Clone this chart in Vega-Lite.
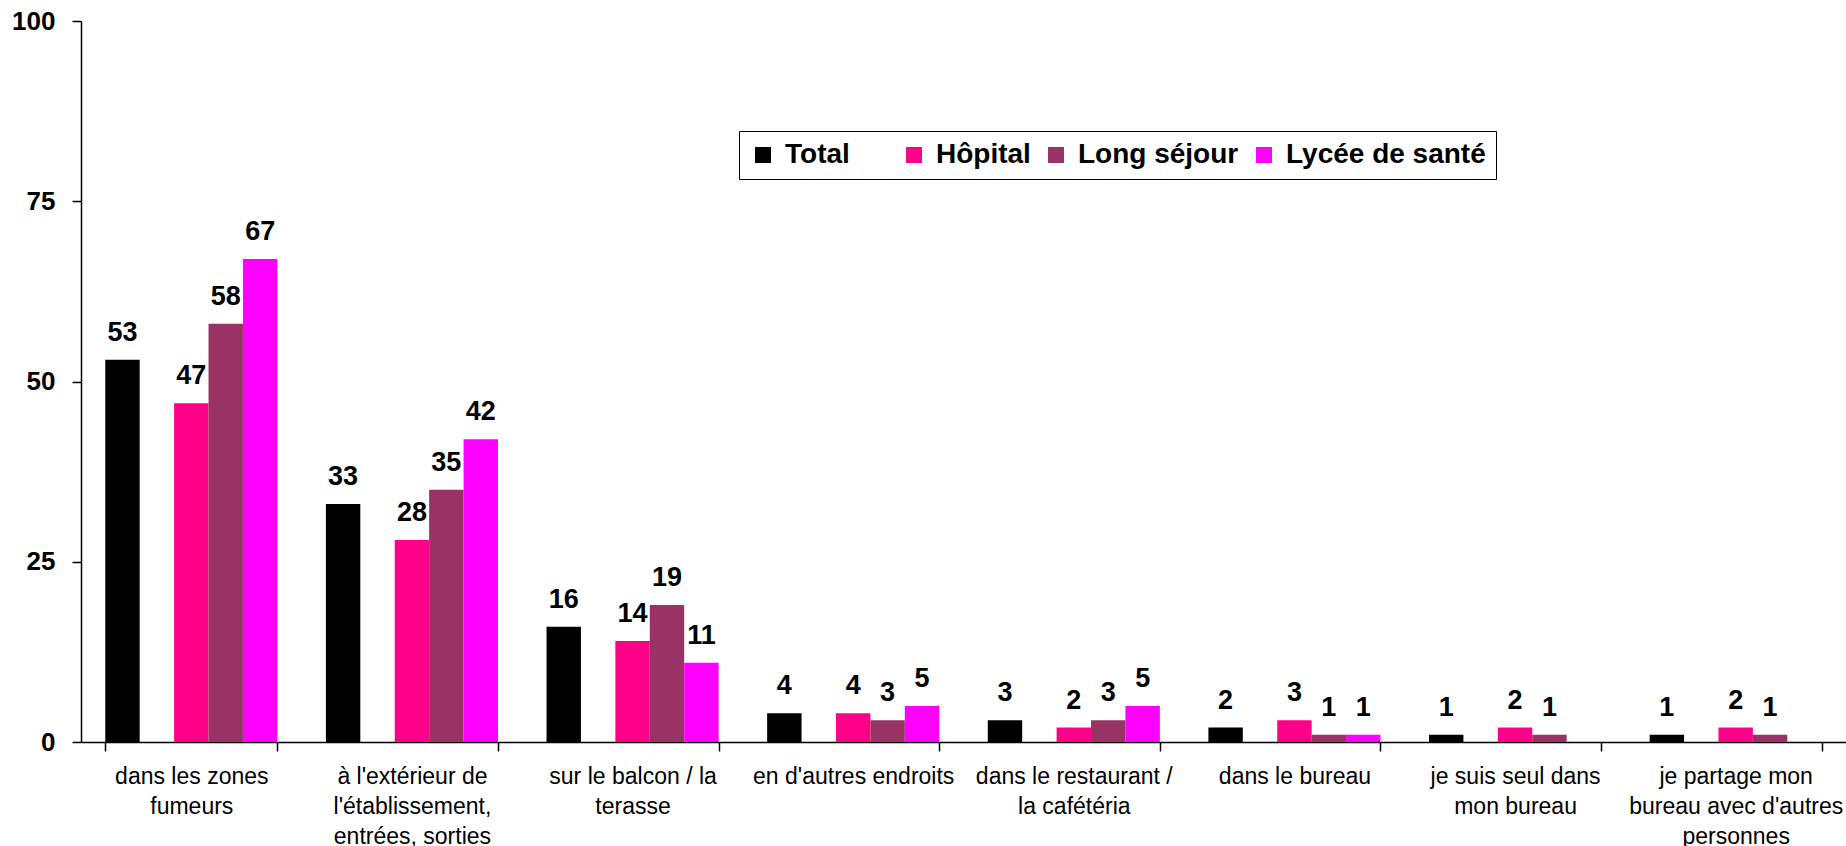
{
  "$schema": "https://vega.github.io/schema/vega-lite/v6.json",
  "width": 1765,
  "height": 721,
  "autosize": {"type": "none"},
  "padding": {"left": 81, "top": 21, "right": 0, "bottom": 104},
  "background": "white",
  "config": {
    "font": "Liberation Sans",
    "view": {"stroke": null},
    "axis": {"domainColor": "black", "tickColor": "black", "domainWidth": 1.5, "tickWidth": 1.5, "labelColor": "black", "grid": false}
  },
  "data": {
    "values": [
      {"cat": "dans les zones fumeurs", "s": "Total", "v": 53},
      {"cat": "dans les zones fumeurs", "s": "Hôpital", "v": 47},
      {"cat": "dans les zones fumeurs", "s": "Long séjour", "v": 58},
      {"cat": "dans les zones fumeurs", "s": "Lycée de santé", "v": 67},
      {"cat": "à l'extérieur de l'établissement, entrées, sorties", "s": "Total", "v": 33},
      {"cat": "à l'extérieur de l'établissement, entrées, sorties", "s": "Hôpital", "v": 28},
      {"cat": "à l'extérieur de l'établissement, entrées, sorties", "s": "Long séjour", "v": 35},
      {"cat": "à l'extérieur de l'établissement, entrées, sorties", "s": "Lycée de santé", "v": 42},
      {"cat": "sur le balcon / la terasse", "s": "Total", "v": 16},
      {"cat": "sur le balcon / la terasse", "s": "Hôpital", "v": 14},
      {"cat": "sur le balcon / la terasse", "s": "Long séjour", "v": 19},
      {"cat": "sur le balcon / la terasse", "s": "Lycée de santé", "v": 11},
      {"cat": "en d'autres endroits", "s": "Total", "v": 4},
      {"cat": "en d'autres endroits", "s": "Hôpital", "v": 4},
      {"cat": "en d'autres endroits", "s": "Long séjour", "v": 3},
      {"cat": "en d'autres endroits", "s": "Lycée de santé", "v": 5},
      {"cat": "dans le restaurant / la cafétéria", "s": "Total", "v": 3},
      {"cat": "dans le restaurant / la cafétéria", "s": "Hôpital", "v": 2},
      {"cat": "dans le restaurant / la cafétéria", "s": "Long séjour", "v": 3},
      {"cat": "dans le restaurant / la cafétéria", "s": "Lycée de santé", "v": 5},
      {"cat": "dans le bureau", "s": "Total", "v": 2},
      {"cat": "dans le bureau", "s": "Hôpital", "v": 3},
      {"cat": "dans le bureau", "s": "Long séjour", "v": 1},
      {"cat": "dans le bureau", "s": "Lycée de santé", "v": 1},
      {"cat": "je suis seul dans mon bureau", "s": "Total", "v": 1},
      {"cat": "je suis seul dans mon bureau", "s": "Hôpital", "v": 2},
      {"cat": "je suis seul dans mon bureau", "s": "Long séjour", "v": 1},
      {"cat": "je partage mon bureau avec d'autres personnes", "s": "Total", "v": 1},
      {"cat": "je partage mon bureau avec d'autres personnes", "s": "Hôpital", "v": 2},
      {"cat": "je partage mon bureau avec d'autres personnes", "s": "Long séjour", "v": 1}
    ]
  },
  "encoding": {
    "x": {
      "field": "cat", "type": "nominal", "sort": null,
      "scale": {"paddingInner": 0.22, "paddingOuter": 0.11},
      "axis": {
        "title": null, "labelAngle": 0, "labelFontSize": 23, "labelLineHeight": 30,
        "tickBand": "extent", "tickSize": 9, "labelPadding": 14, "labelLimit": 400, "labelOverlap": false,
        "labelExpr": "{\"dans les zones fumeurs\":[\"dans les zones\",\"fumeurs\"],\"à l'extérieur de l'établissement, entrées, sorties\":[\"à l'extérieur de\",\"l'établissement,\",\"entrées, sorties\"],\"sur le balcon / la terasse\":[\"sur le balcon / la\",\"terasse\"],\"en d'autres endroits\":\"en d'autres endroits\",\"dans le restaurant / la cafétéria\":[\"dans le restaurant /\",\"la cafétéria\"],\"dans le bureau\":\"dans le bureau\",\"je suis seul dans mon bureau\":[\"je suis seul dans\",\"mon bureau\"],\"je partage mon bureau avec d'autres personnes\":[\"je partage mon\",\"bureau avec d'autres\",\"personnes\"]}[datum.value]"
      }
    },
    "xOffset": {
      "field": "s", "type": "nominal",
      "scale": {"domain": ["Total", "gap", "Hôpital", "Long séjour", "Lycée de santé"], "paddingInner": 0, "paddingOuter": 0}
    },
    "y": {
      "field": "v", "type": "quantitative",
      "scale": {"domain": [0, 100], "nice": false},
      "axis": {"title": null, "values": [0, 25, 50, 75, 100], "labelFontSize": 26, "labelFontWeight": "bold", "tickSize": 9, "labelPadding": 17}
    }
  },
  "layer": [
    {
      "mark": {"type": "bar"},
      "encoding": {
        "color": {
          "field": "s", "type": "nominal",
          "scale": {"domain": ["Total", "Hôpital", "Long séjour", "Lycée de santé"], "range": ["#000000", "#ff0088", "#993366", "#ff00ff"]},
          "legend": {
            "orient": "none", "legendX": 658, "legendY": 110, "direction": "horizontal", "title": null,
            "symbolType": "square", "symbolSize": 256, "symbolStrokeWidth": 0, "symbolOpacity": 1,
            "labelFontSize": 28, "labelFontWeight": "bold", "labelColor": "black", "labelOffset": 8, "labelLimit": 400,
            "columnPadding": 11, "padding": 10, "strokeColor": "black", "fillColor": "white",
            "labelExpr": "datum.label == 'Total' ? 'Total\u00a0\u00a0\u00a0\u00a0\u00a0\u200b' : datum.label"
          }
        }
      }
    },
    {
      "mark": {"type": "text", "fontSize": 27, "fontWeight": "bold", "color": "black", "baseline": "alphabetic", "dy": -19},
      "encoding": {"text": {"field": "v", "type": "quantitative"}}
    }
  ]
}
